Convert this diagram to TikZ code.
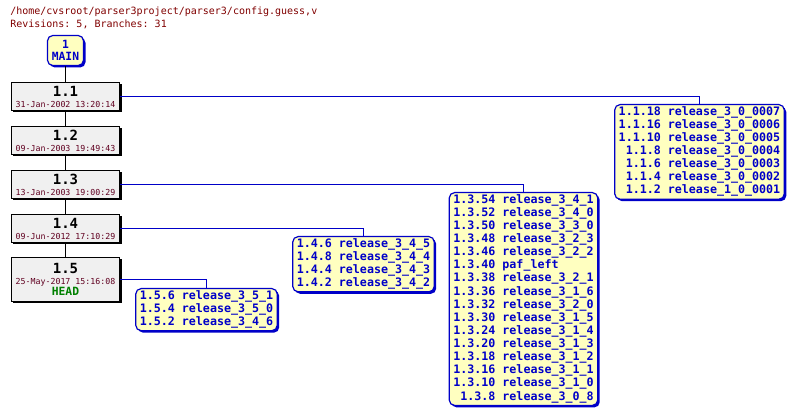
\documentclass[tikz,border=0pt]{standalone}
\usepackage{fontspec}
\setmonofont{DejaVu Sans Mono}
\usetikzlibrary{shadows}

\begin{document}
\begin{tikzpicture}[x=0.75pt,y=-0.75pt]
    % --- MANUAL CONFIGURATION ---
    % 1. Trunk column (x of the revision boxes)
    \def\TrunkX{65.5}

    % 2. Colors of the CVS graph
    \definecolor{cvsBlue}{RGB}{0, 0, 200}
    \definecolor{cvsRed}{RGB}{128, 0, 0}
    \definecolor{cvsDate}{RGB}{96, 0, 32}
    \definecolor{cvsGreen}{RGB}{0, 128, 0}
    \definecolor{cvsYellow}{RGB}{255, 255, 192}
    \definecolor{cvsGrey}{RGB}{240, 240, 240}

    % --- STYLES ---
    \tikzset{
        revNode/.style={rectangle, draw=black, fill=cvsGrey, line width=0.9pt, minimum width=81.5pt, minimum height=21pt, inner sep=0pt, align=center, font=\fontsize{6.2}{8.25}\selectfont, drop shadow={shadow xshift=1.5pt, shadow yshift=-1.5pt, fill=black, opacity=1}},
        tagNode/.style={rectangle, rounded corners=4pt, draw=cvsBlue, fill=cvsYellow, line width=0.9pt, text=cvsBlue, drop shadow={shadow xshift=1.5pt, shadow yshift=-1.5pt, fill=cvsBlue, opacity=1}},
        branchNode/.style={tagNode, anchor=north, inner xsep=3pt, inner ysep=1pt, font=\fontsize{8.75}{9.85}\selectfont\ttfamily\bfseries},
        trunkLine/.style={draw=black, line width=0.75pt},
        branchLine/.style={draw=cvsBlue, line width=0.75pt}
    }
    \newcommand{\revfont}{\fontsize{10.5}{10.5}\selectfont\ttfamily\bfseries}
    \newcommand{\datefont}{\fontsize{6.2}{8.25}\selectfont\ttfamily\color{cvsDate}}

    \useasboundingbox (0,0) rectangle (795,416);

    % --- HEADER ---
    \node[anchor=north west, inner sep=0pt, align=left, text=cvsRed, font=\fontsize{7.5}{9.4}\selectfont\ttfamily] (header) at (10,7) {/home/cvsroot/parser3project/parser3/config.guess,v\\Revisions: 5, Branches: 31};

    % --- NODES ---

    % Trunk (MAIN tag and revisions)
    \node[tagNode, minimum width=27pt, minimum height=22.5pt, inner sep=0pt, align=center, font=\fontsize{8.5}{9}\selectfont\ttfamily\bfseries] (main) at (\TrunkX,50.5) {1\\MAIN};

    \node[revNode] (r11) at (\TrunkX,96.5) {{\revfont 1.1}\\{\datefont 31-Jan-2002 13:20:14}};
    \node[revNode] (r12) at (\TrunkX,140.5) {{\revfont 1.2}\\{\datefont 09-Jan-2003 19:49:43}};
    \node[revNode] (r13) at (\TrunkX,184.5) {{\revfont 1.3}\\{\datefont 13-Jan-2003 19:00:29}};
    \node[revNode] (r14) at (\TrunkX,228.5) {{\revfont 1.4}\\{\datefont 09-Jun-2012 17:10:29}};
    \node[revNode, minimum height=33pt] (r15) at (\TrunkX,279.5) {{\revfont 1.5}\\{\datefont 25-May-2017 15:16:08}\\{\fontsize{8.5}{9}\selectfont\ttfamily\bfseries\color{cvsGreen}HEAD}};

    % Branch tags (top center under the bend of the connector)
    \node[branchNode] (b11) at (699.5,104) {\begin{tabular}{@{}r@{\ }l@{}}
        1.1.18 & release\_3\_0\_0007\\
        1.1.16 & release\_3\_0\_0006\\
        1.1.10 & release\_3\_0\_0005\\
        1.1.8 & release\_3\_0\_0004\\
        1.1.6 & release\_3\_0\_0003\\
        1.1.4 & release\_3\_0\_0002\\
        1.1.2 & release\_1\_0\_0001
    \end{tabular}};

    \node[branchNode] (b13) at (523.5,192) {\begin{tabular}{@{}r@{\ }l@{}}
        1.3.54 & release\_3\_4\_1\\
        1.3.52 & release\_3\_4\_0\\
        1.3.50 & release\_3\_3\_0\\
        1.3.48 & release\_3\_2\_3\\
        1.3.46 & release\_3\_2\_2\\
        1.3.40 & paf\_left\\
        1.3.38 & release\_3\_2\_1\\
        1.3.36 & release\_3\_1\_6\\
        1.3.32 & release\_3\_2\_0\\
        1.3.30 & release\_3\_1\_5\\
        1.3.24 & release\_3\_1\_4\\
        1.3.20 & release\_3\_1\_3\\
        1.3.18 & release\_3\_1\_2\\
        1.3.16 & release\_3\_1\_1\\
        1.3.10 & release\_3\_1\_0\\
        1.3.8 & release\_3\_0\_8
    \end{tabular}};

    \node[branchNode] (b14) at (363.5,236) {\begin{tabular}{@{}r@{\ }l@{}}
        1.4.6 & release\_3\_4\_5\\
        1.4.8 & release\_3\_4\_4\\
        1.4.4 & release\_3\_4\_3\\
        1.4.2 & release\_3\_4\_2
    \end{tabular}};

    \node[branchNode] (b15) at (206.5,288) {\begin{tabular}{@{}r@{\ }l@{}}
        1.5.6 & release\_3\_5\_1\\
        1.5.4 & release\_3\_5\_0\\
        1.5.2 & release\_3\_4\_6
    \end{tabular}};

    % --- CONNECTORS ---

    % Trunk
    \draw[trunkLine] (main) -- (r11);
    \draw[trunkLine] (r11) -- (r12);
    \draw[trunkLine] (r12) -- (r13);
    \draw[trunkLine] (r13) -- (r14);
    \draw[trunkLine] (r14) -- (r15);

    % Branches
    \draw[branchLine] (r11) -| (b11);
    \draw[branchLine] (r13) -| (b13);
    \draw[branchLine] (r14) -| (b14);
    \draw[branchLine] (r15) -| (b15);

\end{tikzpicture}
\end{document}
